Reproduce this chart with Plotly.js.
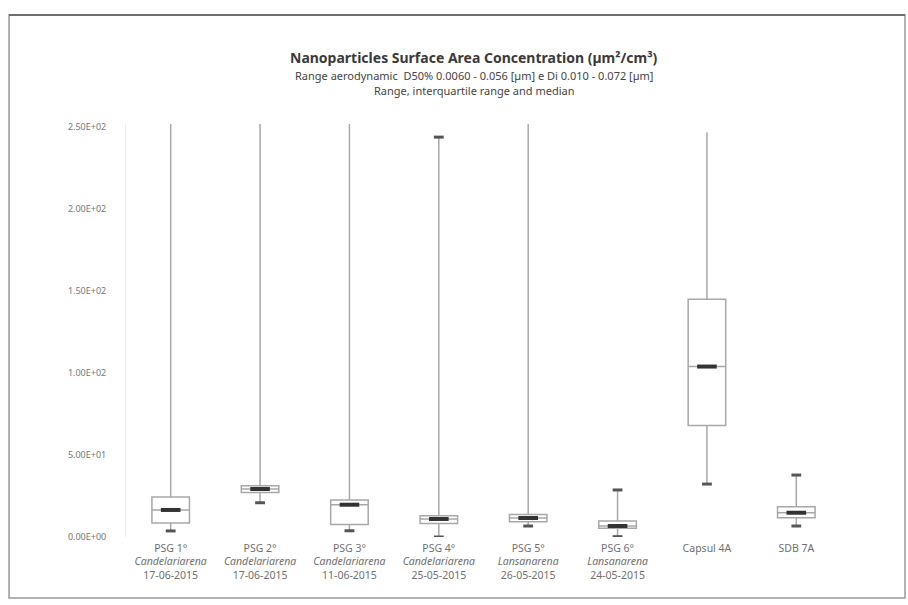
<!DOCTYPE html>
<html>
<head>
<meta charset="utf-8">
<script src="https://cdn.plot.ly/plotly-3.0.1.min.js"></script>
<style>html,body{margin:0;padding:0;background:#fff;}#chart{width:908px;height:605px;}</style>
</head>
<body>
<div id="chart"></div>
<script>
// ---- data ----
var categories = [
  "PSG 1°<br><i>Candelariarena</i><br>17-06-2015",
  "PSG 2°<br><i>Candelariarena</i><br>17-06-2015",
  "PSG 3°<br><i>Candelariarena</i><br>11-06-2015",
  "PSG 4°<br><i>Candelariarena</i><br>25-05-2015",
  "PSG 5°<br><i>Lansanarena</i><br>26-05-2015",
  "PSG 6°<br><i>Lansanarena</i><br>24-05-2015",
  "Capsul 4A",
  "SDB 7A"
];
var minVals    = [3.7, 20.9, 3.8, 0.0, 6.7, 0.2, 32.3, 6.7];
var q1Vals     = [8.5, 27.2, 7.7, 8.3, 9.3, 5.3, 68.0, 11.8];
var medianVals = [16.5, 29.3, 19.7, 11.0, 11.6, 6.7, 104.0, 14.8];
var q3Vals     = [24.4, 31.3, 22.6, 13.0, 13.8, 9.8, 145.0, 18.5];
// maxima above the top of the axis are clipped in the reference (exact value not visible)
var maxVals    = [300, 300, 300, 244, 300, 28.7, 247, 37.8];

var yTickVals  = [0, 50, 100, 150, 200, 250];
var yTickText  = ["0.00E+00", "5.00E+01", "1.00E+02", "1.50E+02", "2.00E+02", "2.50E+02"];

// whisker end caps that are visible in the reference
var capX = [], capY = [];
for (var i = 0; i < categories.length; i++) {
  capX.push(categories[i]); capY.push(minVals[i]);
  if (maxVals[i] < 246) { capX.push(categories[i]); capY.push(maxVals[i]); }
}

var FONT = "Noto Sans, Open Sans, sans-serif";

var traces = [
  {
    type: "box",
    x: categories,
    q1: q1Vals,
    median: medianVals,
    q3: q3Vals,
    lowerfence: minVals,
    upperfence: maxVals,
    width: 0.42,
    whiskerwidth: 0,
    fillcolor: "#ffffff",
    line: {color: "#a8a8a8", width: 1.5},
    boxpoints: false,
    hoverinfo: "skip",
    showlegend: false
  },
  {
    type: "scatter",
    mode: "markers",
    x: categories,
    y: medianVals,
    marker: {symbol: "line-ew", size: 14, line: {color: "#333333", width: 4}},
    hoverinfo: "skip",
    showlegend: false
  },
  {
    type: "scatter",
    mode: "markers",
    x: capX,
    y: capY,
    marker: {symbol: "line-ew", size: 7, line: {color: "#555555", width: 3}},
    hoverinfo: "skip",
    showlegend: false
  }
];

var layout = {
  width: 908,
  height: 605,
  margin: {l: 126, r: 67, t: 124, b: 68},
  paper_bgcolor: "#ffffff",
  plot_bgcolor: "#ffffff",
  showlegend: false,
  font: {family: FONT, color: "#666666"},
  xaxis: {
    type: "category",
    range: [-0.5, 7.5],
    showgrid: false,
    zeroline: false,
    showline: false,
    ticks: "",
    ticklabelstandoff: 3,
    tickfont: {family: FONT, size: 10.5, color: "#707070"},
    fixedrange: true
  },
  yaxis: {
    range: [0, 252],
    tickvals: yTickVals,
    ticktext: yTickText,
    showgrid: false,
    zeroline: false,
    showline: true,
    linecolor: "#ececec",
    linewidth: 1,
    ticks: "",
    ticklabelstandoff: 17,
    tickfont: {family: FONT, size: 9, color: "#777777"},
    fixedrange: true
  },
  annotations: [
    {xref: "paper", yref: "paper", x: 0.487, y: 1.16, xanchor: "center", yanchor: "middle", showarrow: false,
     text: "<b>Nanoparticles Surface Area Concentration (µm²/cm³)</b>",
     font: {family: FONT, size: 14, color: "#3a3a3a"}},
    {xref: "paper", yref: "paper", x: 0.487, y: 1.1185, xanchor: "center", yanchor: "middle", showarrow: false,
     text: "Range aerodynamic  D50% 0.0060 - 0.056 [µm] e Di 0.010 - 0.072 [µm]",
     font: {family: FONT, size: 11, color: "#444444"}},
    {xref: "paper", yref: "paper", x: 0.487, y: 1.08, xanchor: "center", yanchor: "middle", showarrow: false,
     text: "Range, interquartile range and median",
     font: {family: FONT, size: 11, color: "#444444"}}
  ],
  shapes: [
    {type: "rect", xref: "paper", yref: "paper", x0: -0.1636, x1: 1.0895, y0: -0.1477, y1: 1.2639,
     line: {color: "#9a9a9a", width: 1.5}, fillcolor: "rgba(0,0,0,0)", layer: "below"},
    {type: "line", xref: "paper", yref: "paper", x0: -0.1636, x1: 1.0895, y0: 1.2639, y1: 1.2639,
     line: {color: "#6e6e6e", width: 2}}
  ]
};

Plotly.newPlot("chart", traces, layout, {staticPlot: true, displayModeBar: false});
</script>
</body>
</html>
